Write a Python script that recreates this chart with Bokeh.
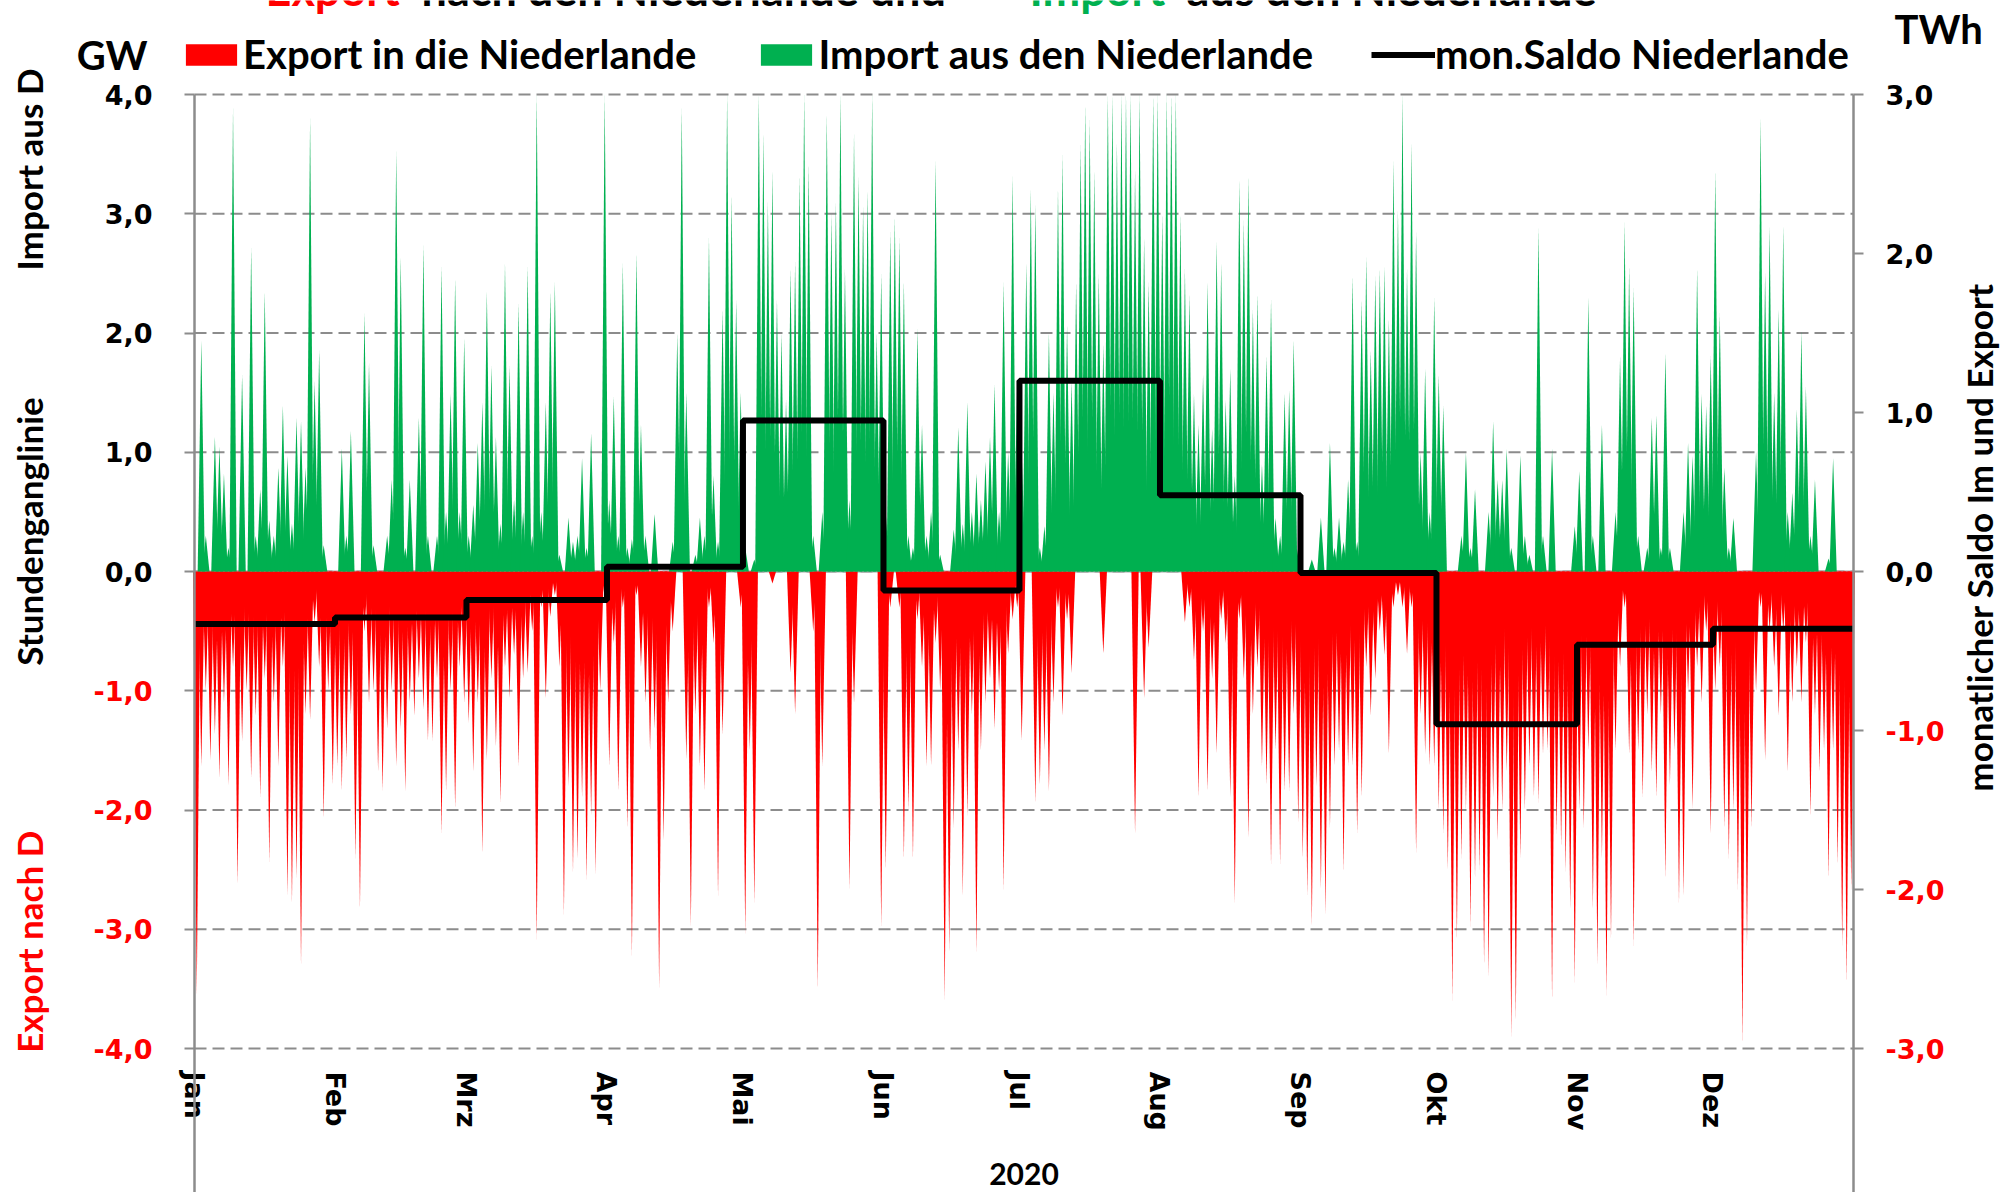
from math import pi
from bokeh.plotting import figure
from bokeh.models import (Range1d, LinearAxis, FixedTicker, Label, Legend, LegendItem,
                          ColumnDataSource, Grid)
from bokeh.embed import file_html
from bokeh.resources import INLINE

# ---------------- data ----------------
months = ["Jan", "Feb", "Mrz", "Apr", "Mai", "Jun", "Jul", "Aug", "Sep", "Okt", "Nov", "Dez"]
month_days = [31, 29, 31, 30, 31, 30, 31, 31, 30, 31, 30, 31]
year_label = "2020"

# monthly balance (TWh, right axis)
saldo_twh = [-0.33, -0.29, -0.18, 0.03, 0.95, -0.12, 1.20, 0.48, -0.01, -0.96, -0.46, -0.36]

# daily peak import from the Netherlands (GW, positive)
imp_jan = [0, 1.94, 0.3, 0, 1.13, 1.05, 0.82, 0.2, 3.89, 0, 1.65, 0, 2.72, 0.3, 0.69, 2.35, 0.43, 0.3, 0.87, 1.39,
           0.97, 0.4, 1.29, 1.26, 0.87, 3.81, 1.6, 1.86, 0.22, 0, 0]
imp_feb = [0, 1.03, 0.3, 1.18, 0, 0, 2.17, 1.75, 0.22, 0, 0, 0.3, 0.77, 3.53, 2.64, 0.2, 0.77, 0, 1.29, 2.74,
           0.3, 0, 0.3, 2.56, 0.5, 1.49, 2.46, 0.5, 1.96]
imp_mar = [0.3, 0.56, 1.08, 1.42, 2.35, 1.73, 1.13, 0.4, 2.59, 1.73, 0.6, 2.25, 0.5, 2.56, 0.3, 4.0, 0.5, 1.42, 2.35,
           2.43, 0.14, 0, 0.45, 0.25, 0.3, 0.95, 0.2, 1.16, 0, 0, 4.0]
imp_apr = [0.6, 1.47, 0.3, 2.59, 0.2, 0.27, 2.67, 1.23, 0.3, 0, 0.48, 0, 0, 0, 0.25, 2.0, 3.89, 1.5, 0, 0.14,
           0.45, 0.3, 2.8, 0.8, 0.25, 2.2, 4.0, 3.16, 2.28, 1.5]
imp_mai = [0.2, 0, 0.1, 4.0, 3.68, 3.1, 3.37, 2.28, 2.0, 1.44, 2.54, 2.6, 3.32, 4.0, 3.42, 0.3, 0, 0.5, 3.84, 3.0,
           3.1, 4.0, 2.54, 0.6, 3.68, 3.32, 3.06, 3.2, 4.0, 2.0, 2.5]
imp_jun = [0.5, 2.85, 2.98, 2.8, 2.43, 0.3, 0.2, 2.04, 1.23, 0.3, 0.5, 3.45, 0.14, 0, 0, 0.35, 1.21, 0.4, 1.42, 0.5,
           0.82, 0.6, 0.92, 1.13, 1.57, 0.5, 2.43, 1.0, 3.32, 1.6]
imp_jul = [1.0, 2.59, 3.21, 3.08, 0.2, 0.38, 2.0, 1.5, 3.21, 3.5, 2.07, 1.6, 2.43, 3.58, 3.92, 3.79, 3.37, 2.5, 1.91,
           4.0, 4.0, 3.6, 4.0, 4.0, 4.0, 3.37, 4.0, 2.8, 2.43, 4.0, 4.0]
imp_aug = [3.0, 4.0, 4.0, 4.0, 3.0, 2.54, 2.33, 1.49, 1.23, 1.65, 2.43, 1.2, 2.77, 2.59, 1.44, 1.7, 0.8, 3.29, 2.95,
           3.32, 2.2, 2.33, 0.9, 1.81, 2.28, 0.45, 0.3, 1.49, 1.52, 1.94, 0.2]
imp_sep = [0, 0, 0.1, 0, 0.45, 0, 1.08, 0.2, 0.45, 0.25, 0.77, 2.48, 0.25, 2.28, 2.64, 1.86, 2.48, 2.54, 2.56, 2.12,
           3.45, 3.03, 4.0, 2.54, 3.6, 2.85, 1.0, 1.7, 0.5, 2.3]
imp_okt = [1.65, 1.39, 0, 0, 0, 0.3, 1.0, 0.2, 0.69, 0, 0, 0.5, 1.26, 0.77, 0.77, 1.03, 0.2, 0, 0.97, 0.3, 0.14,
           0, 2.88, 0.3, 0, 1.03, 0, 0, 0, 0, 0.38]
imp_nov = [0.84, 0, 2.3, 0.3, 0, 1.23, 0, 0, 0.5, 1.81, 2.93, 2.56, 2.38, 0.3, 0, 0.2, 1.29, 1.31, 0.2, 1.83,
           0.2, 0, 0, 0.5, 1.08, 0.97, 2.54, 1.49, 1.39, 1.81]
imp_dez = [3.37, 2.17, 0.87, 0.2, 0.45, 0, 0, 0, 0, 1.0, 3.81, 2.51, 2.9, 1.5, 2.2, 2.9, 0.5, 0.66, 1.36, 2.02,
           1.55, 0.3, 0.77, 0, 0, 0.11, 0.95, 0, 0, 0, 0]

# daily peak export to the Netherlands (GW, magnitude)
exp_jan = [3.56, 1.63, 1.0, 1.58, 1.37, 1.73, 1.1, 1.79, 0.8, 2.62, 1.42, 1.0, 1.73, 1.21, 1.89, 0.9, 2.44, 1.1,
           1.63, 0.8, 2.72, 2.78, 2.57, 3.3, 1.2, 1.24, 0.43, 0.8, 2.07, 1.0, 1.79]
exp_feb = [1.63, 1.84, 1.58, 1.2, 2.41, 2.83, 0.5, 1.1, 1.0, 1.68, 1.84, 1.32, 1.0, 1.63, 1.32, 1.84, 1.1, 1.21,
           0.9, 1.16, 1.42, 1.42, 0.9, 2.2, 1.84, 1.0, 1.99, 0.8, 1.1]
exp_mar = [1.27, 1.68, 1.1, 2.36, 1.58, 0.9, 1.47, 1.94, 0.8, 1.06, 0.7, 1.63, 0.9, 0.85, 0.5, 3.09, 0.3, 1.06,
           0.38, 0.2, 0.8, 2.88, 1.8, 2.52, 2.41, 1.9, 2.59, 2.05, 2.54, 1.0, 0.22]
exp_apr = [1.63, 0.6, 1.84, 0.3, 2.15, 3.22, 0.2, 0.8, 1.1, 1.5, 1.32, 3.5, 2.26, 1.1, 0.5, 0, 0, 1.58, 2.98, 1.2,
           1.63, 1.84, 0.3, 0.6, 2.72, 1.37, 0, 0, 0, 0.3]
exp_mai = [3.04, 1.5, 2.78, 0, 0, 0, 0.1, 0, 0, 0, 0.85, 1.19, 0, 0, 0, 0.5, 3.5, 1.63, 0, 0, 0, 0, 0, 2.67, 1.1,
           0, 0, 0, 0, 0, 2.98]
exp_jun = [2.5, 0.3, 0, 0.3, 2.41, 2.0, 2.41, 0.4, 0.8, 1.63, 1.63, 0.6, 1.0, 3.6, 3.19, 2.15, 1.5, 2.72, 2.05, 1.2,
           3.19, 1.5, 1.1, 0.9, 1.32, 1.0, 2.67, 0.69, 0.4, 0.3]
exp_jul = [1.42, 0, 0, 1.94, 1.79, 1.5, 1.84, 1.1, 0.3, 1.21, 0.4, 0.85, 0, 0, 0, 0, 0, 0, 0.69, 0, 0, 0, 0, 0, 0,
           2.2, 0, 1.06, 0.64, 0, 0]
exp_aug = [0, 0, 0, 0, 0, 0.43, 0.3, 0.74, 1.89, 0.5, 1.84, 0.9, 1.53, 0.4, 0.6, 1.89, 2.78, 0.4, 0.9, 2.23, 1.2,
           0.8, 1.63, 1.79, 2.46, 1.5, 2.46, 1.84, 1.84, 1.2, 2.1]
exp_sep = [2.41, 2.72, 2.98, 1.8, 2.67, 2.88, 2.15, 1.63, 1.5, 2.52, 1.63, 1.63, 2.2, 1.89, 0.8, 1.21, 0.9, 0.5, 0.7,
           1.53, 0.3, 0.2, 0.3, 0.69, 0.3, 2.36, 1.2, 1.53, 1.63, 1.63]
exp_okt = [2.0, 2.2, 2.5, 3.6, 3.09, 2.41, 2.0, 2.98, 2.57, 2.5, 3.3, 3.4, 1.89, 2.26, 2.0, 1.68, 3.92, 3.77, 2.41,
           2.0, 1.63, 1.89, 1.94, 1.53, 1.5, 3.6, 2.2, 2.31, 2.52, 2.83, 3.45]
exp_nov = [2.0, 2.15, 1.5, 2.83, 3.3, 2.41, 3.56, 3.09, 1.5, 0.8, 0.3, 1.53, 3.14, 1.5, 1.89, 1.2, 1.68, 1.89, 1.2,
           2.57, 1.79, 1.5, 2.78, 2.72, 1.0, 1.99, 0.8, 1.1, 0.5, 2.2]
exp_dez = [1.0, 0.8, 2.15, 2.41, 2.0, 2.67, 3.97, 3.14, 2.15, 1.0, 0.3, 1.58, 0.5, 0.8, 1.21, 0.5, 1.68, 1.1, 0.8,
           1.1, 0.6, 2.05, 1.2, 1.68, 1.5, 2.57, 1.5, 2.46, 3.14, 3.45, 2.67]

gw_ticks = [-4, -3, -2, -1, 0, 1, 2, 3, 4]
twh_ticks = [-3, -2, -1, 0, 1, 2, 3]

# ---------------- derived ----------------
import_gw = (imp_jan + imp_feb + imp_mar + imp_apr + imp_mai + imp_jun + imp_jul + imp_aug +
             imp_sep + imp_okt + imp_nov + imp_dez)
export_gw = (exp_jan + exp_feb + exp_mar + exp_apr + exp_mai + exp_jun + exp_jul + exp_aug +
             exp_sep + exp_okt + exp_nov + exp_dez)
n_days = sum(month_days)
month_start = [sum(month_days[:i]) for i in range(12)]
gw_max = max(gw_ticks)
twh_max = max(twh_ticks)


def fmt(v):
    return ("%.1f" % v).replace(".", ",")


RED = "#FF0000"
GREEN = "#00B050"
GRAY = "#8c8c8c"
HALF = 0.8  # half base of each daily spike (days)

# ---------------- geometry (canvas pixels) ----------------
W, H = 2000, 1192
PX_L, PX_R, PX_T, PX_B = 194, 1853, 94, 1048
day_px = (PX_R - PX_L) / n_days
gw_px = (PX_B - PX_T) / (2 * gw_max)
X0 = -PX_L / day_px
X1 = n_days + (W - PX_R) / day_px
Y0 = -gw_max - (H - PX_B) / gw_px
Y1 = gw_max + PX_T / gw_px
ratio = twh_max / gw_max

imp_src = ColumnDataSource(dict(
    xs=[[d + 0.5 - HALF, d + 0.5, d + 0.5 + HALF] for d, v in enumerate(import_gw) if v > 0],
    ys=[[0, v, 0] for v in import_gw if v > 0]))
exp_src = ColumnDataSource(dict(
    xs=[[d + 0.5 - HALF, d + 0.5, d + 0.5 + HALF] for d, v in enumerate(export_gw) if v > 0],
    ys=[[0, -v, 0] for v in export_gw if v > 0]))

step_x = month_start + [n_days]
step_y = saldo_twh + [saldo_twh[-1]]

# ---------------- figure ----------------
p = figure(width=W, height=H, x_range=Range1d(X0, X1), y_range=Range1d(Y0, Y1),
           output_backend="svg", toolbar_location=None,
           x_axis_location=None, y_axis_location=None,
           min_border=0, min_border_left=0, min_border_right=0, min_border_top=0, min_border_bottom=0)
p.extra_y_ranges = {"twh": Range1d(Y0 * ratio, Y1 * ratio)}
p.center = [r for r in p.center if not isinstance(r, Grid)]
p.outline_line_color = None
p.background_fill_color = "white"
p.border_fill_color = "white"

# dashed grid lines at the GW ticks
p.segment(x0=[0] * len(gw_ticks), x1=[n_days] * len(gw_ticks), y0=gw_ticks, y1=gw_ticks,
          line_color=GRAY, line_width=2, line_dash="12 6")
p.segment(x0=[0], x1=[n_days], y0=[0], y1=[0], line_color="#a6a6a6", line_width=2)

r_exp = p.patches("xs", "ys", source=exp_src, fill_color=RED, line_color=None)
r_imp = p.patches("xs", "ys", source=imp_src, fill_color=GREEN, line_color=None)
r_step = p.step(step_x, step_y, mode="after", line_width=6, line_color="black", y_range_name="twh")


def value_axis(ticks, color, fixed, side, standoff, show_line, range_name="default", top=gw_max):
    ax = LinearAxis(ticker=FixedTicker(ticks=ticks), fixed_location=fixed, y_range_name=range_name,
                    major_label_overrides={t: fmt(t) for t in ticks},
                    bounds=(p.extra_y_ranges["twh"].start if range_name == "twh" else Y0, top))
    ax.axis_line_color = GRAY if show_line else None
    ax.axis_line_width = 2.5
    ax.major_tick_line_color = GRAY
    ax.major_tick_line_width = 2
    ax.major_tick_out = 10
    ax.major_tick_in = 0
    ax.minor_tick_line_color = None
    ax.major_label_standoff = standoff
    ax.major_label_text_font = "DejaVu Sans"
    ax.major_label_text_font_style = "bold"
    ax.major_label_text_font_size = "27px"
    ax.major_label_text_color = color
    p.add_layout(ax, side)


value_axis([t for t in gw_ticks if t >= 0], "black", 0, "left", 32, True)
value_axis([t for t in gw_ticks if t < 0], RED, 0, "left", 32, False)
value_axis([t for t in twh_ticks if t >= 0], "black", n_days, "right", 22, True, "twh", twh_max)
value_axis([t for t in twh_ticks if t < 0], RED, n_days, "right", 22, False, "twh", twh_max)

xa = LinearAxis(ticker=FixedTicker(ticks=month_start), fixed_location=-gw_max,
                major_label_overrides={s: m for s, m in zip(month_start, months)})
xa.axis_line_color = None
xa.major_tick_line_color = None
xa.minor_tick_line_color = None
xa.major_label_orientation = "vertical"
xa.major_label_standoff = 17
xa.major_label_text_font = "DejaVu Sans"
xa.major_label_text_font_style = "bold"
xa.major_label_text_font_size = "27px"
xa.major_label_text_color = "black"
p.add_layout(xa, "below")


def txt(text, x, y, xo, yo, align="center", color="black", size="35px", angle=0.0,
        baseline="middle"):
    p.add_layout(Label(x=x, y=y, x_offset=xo, y_offset=yo, text=text, text_align=align,
                       text_baseline=baseline, text_color=color, text_font="Lato",
                       text_font_style="bold", text_font_size=size, angle=angle))


txt("Import aus D", 0, gw_max, -166, -75, angle=pi / 2)
txt("Stundenganglinie", 0, gw_max, -166, -437, angle=pi / 2)
txt("Export nach  D", 0, gw_max, -166, -843, angle=pi / 2, color=RED)
txt("monatlicher Saldo Im und Export", n_days, gw_max, 125, -443, angle=pi / 2)
txt("GW", 0, gw_max, -47, 40, align="right", size="40px")
txt("TWh", n_days, gw_max, 41, 66, align="left", size="40px")
txt(year_label, n_days / 2, -gw_max, 0, -125, size="30px")

# title (cut off at the top edge, as in the original)
txt("Export", 0, gw_max, 71, 106, align="left", color=RED, size="45px", baseline="alphabetic")
txt("nach den Niederlande und", 0, gw_max, 227, 106, align="left", size="45px", baseline="alphabetic")
txt("Import", 0, gw_max, 835, 106, align="left", color=GREEN, size="45px", baseline="alphabetic")
txt("aus den Niederlande", 0, gw_max, 992, 106, align="left", size="45px", baseline="alphabetic")

legend = Legend(items=[LegendItem(label="Export in die Niederlande", renderers=[r_exp]),
                       LegendItem(label="Import aus den Niederlande", renderers=[r_imp]),
                       LegendItem(label="mon.Saldo Niederlande", renderers=[r_step])],
                orientation="horizontal", location=(179, 1114), padding=0, margin=0, spacing=58,
                glyph_width=64, glyph_height=27, label_standoff=0,
                label_text_font="Lato", label_text_font_style="bold", label_text_font_size="40px",
                label_text_color="black",
                border_line_color=None, background_fill_alpha=0)
p.add_layout(legend)

open("out.html", "w").write(file_html(p, INLINE))
